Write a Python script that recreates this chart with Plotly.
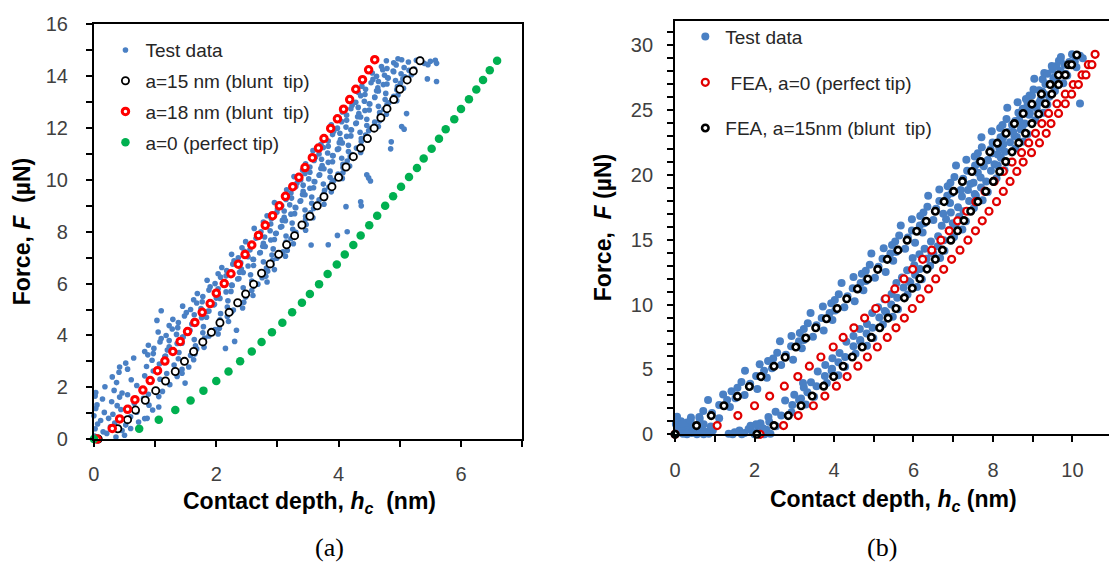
import plotly.graph_objects as go

W, H = 1109, 579

# ================= panel (a) =================
a_test = [
    (0.01,0.12),(0.09,0.04),(0.21,0.22),(0.36,0.08),(0.5,0.15),
    (0.02,0.4),(0.15,0.28),(0.27,0.47),(0.46,0.33),(0.6,0.41),
    (0.06,0.58),(0.11,0.72),(0.34,0.62),(0.52,0.54),(0.73,0.66),
    (0.0,0.9),(0.24,0.8),(0.31,0.96),(0.6,0.86),(0.83,0.79),
    (0.03,1.18),(0.17,1.03),(0.44,1.14),(0.57,1.22),(0.7,1.04),(0.96,1.12),
    (0.05,1.32),(0.29,1.44),(0.38,1.29),(0.66,1.38),(0.9,1.31),
    (0.02,1.66),(0.14,1.55),(0.42,1.62),(0.55,1.71),(0.81,1.57),(1.06,1.64),
    (0.03,1.8),(0.33,1.88),(0.46,1.78),(0.79,1.93),(1.12,1.84),
    (0.18,2.02),(0.37,2.18),(0.7,2.07),(0.92,2.2),(1.24,2.1),
    (0.3,2.4),(0.61,2.29),(0.83,2.44),(1.08,2.31),(1.36,2.42),
    (0.41,2.58),(0.55,2.7),(0.97,2.63),(1.19,2.53),(1.44,2.69),
    (0.52,2.93),(0.86,2.8),(1.07,2.9),(1.31,2.86),(1.55,2.78),
    (0.65,3.13),(0.95,3.04),(1.17,3.2),(1.38,3.1),(1.63,3.06),
    (0.83,3.38),(0.97,3.3),(1.2,3.44),(1.39,3.34),(1.65,3.28),
    (0.89,3.62),(1.23,3.56),(1.44,3.7),(1.66,3.6),(1.8,3.54),
    (1.1,3.88),(1.23,3.8),(1.45,3.94),(1.64,3.84),(1.81,3.9),
    (1.05,4.13),(1.35,4.04),(1.57,4.2),(1.78,4.1),(2.03,4.06),
    (1.23,4.38),(1.37,4.3),(1.6,4.44),(1.79,4.34),(2.05,4.28),
    (1.29,4.62),(1.63,4.56),(1.84,4.7),(2.06,4.6),(2.2,4.54),
    (1.51,4.88),(1.64,4.8),(1.88,4.94),(2.07,4.84),(2.25,4.9),
    (1.45,5.13),(1.75,5.04),(1.97,5.2),(2.18,5.1),(2.43,5.06),
    (1.63,5.38),(1.77,5.3),(2.0,5.44),(2.19,5.34),(2.45,5.28),
    (1.69,5.62),(2.03,5.56),(2.24,5.7),(2.46,5.6),(2.6,5.54),
    (1.9,5.88),(2.03,5.8),(2.25,5.94),(2.44,5.84),(2.61,5.9),
    (1.85,6.13),(2.15,6.04),(2.37,6.2),(2.58,6.1),(2.83,6.06),
    (2.03,6.38),(2.16,6.3),(2.38,6.44),(2.56,6.34),(2.81,6.28),
    (2.09,6.62),(2.41,6.56),(2.61,6.7),(2.82,6.6),(2.95,6.54),
    (2.29,6.88),(2.4,6.8),(2.6,6.94),(2.77,6.84),(2.92,6.9),
    (2.25,7.13),(2.52,7.04),(2.72,7.2),(2.91,7.1),(3.13,7.06),
    (2.42,7.38),(2.55,7.3),(2.76,7.44),(2.93,7.34),(3.16,7.28),
    (2.48,7.62),(2.77,7.56),(2.95,7.7),(3.14,7.6),(3.26,7.54),
    (2.68,7.88),(2.79,7.8),(2.98,7.94),(3.14,7.84),(3.28,7.9),
    (2.62,8.13),(2.88,8.04),(3.07,8.2),(3.25,8.1),(3.46,8.06),
    (2.77,8.38),(2.89,8.3),(3.08,8.44),(3.24,8.34),(3.47,8.28),
    (2.83,8.62),(3.11,8.56),(3.28,8.7),(3.46,8.6),(3.58,8.54),
    (3.0,8.88),(3.11,8.8),(3.29,8.94),(3.45,8.84),(3.59,8.9),
    (2.95,9.13),(3.2,9.04),(3.38,9.2),(3.56,9.1),(3.76,9.06),
    (3.11,9.38),(3.23,9.3),(3.41,9.44),(3.56,9.34),(3.77,9.28),
    (3.15,9.62),(3.42,9.56),(3.59,9.7),(3.77,9.6),(3.88,9.54),
    (3.32,9.88),(3.42,9.8),(3.6,9.94),(3.75,9.84),(3.89,9.9),
    (3.27,10.13),(3.51,10.04),(3.69,10.2),(3.86,10.1),(4.06,10.06),
    (3.41,10.38),(3.53,10.3),(3.71,10.44),(3.86,10.34),(4.07,10.28),
    (3.46,10.62),(3.73,10.56),(3.9,10.7),(4.07,10.6),(4.18,10.54),
    (3.62,10.88),(3.72,10.8),(3.9,10.94),(4.05,10.84),(4.19,10.9),
    (3.58,11.13),(3.82,11.04),(4.0,11.2),(4.16,11.1),(4.36,11.06),
    (3.71,11.38),(3.83,11.3),(4.01,11.44),(4.16,11.34),(4.37,11.28),
    (3.76,11.62),(4.03,11.56),(4.2,11.7),(4.37,11.6),(4.48,11.54),
    (3.92,11.88),(4.02,11.8),(4.2,11.94),(4.35,11.84),(4.49,11.9),
    (3.88,12.13),(4.12,12.04),(4.29,12.2),(4.46,12.1),(4.65,12.06),
    (4.01,12.38),(4.13,12.3),(4.31,12.44),(4.46,12.34),(4.67,12.28),
    (4.06,12.62),(4.33,12.56),(4.5,12.7),(4.67,12.6),(4.78,12.54),
    (4.22,12.88),(4.32,12.8),(4.5,12.94),(4.65,12.84),(4.79,12.9),
    (4.18,13.13),(4.42,13.04),(4.59,13.2),(4.76,13.1),(4.95,13.06),
    (4.32,13.38),(4.43,13.3),(4.62,13.44),(4.77,13.34),(4.97,13.28),
    (4.38,13.62),(4.64,13.56),(4.79,13.7),(4.96,13.6),(5.06,13.54),
    (4.56,13.88),(4.65,13.8),(4.8,13.94),(4.93,13.84),(5.05,13.9),
    (4.55,14.13),(4.75,14.04),(4.89,14.2),(5.02,14.1),(5.19,14.06),
    (4.7,14.38),(4.79,14.3),(4.94,14.44),(5.07,14.34),(5.24,14.28),
    (4.78,14.6),(4.9,14.52),(5.03,14.64),(5.14,14.55),(5.27,14.62),(5.4,14.5),
    (5.5,14.58),(5.6,14.5),(4.97,14.68),(5.34,14.66),(5.58,14.62),(5.46,14.45),
    (2.33,4.2),(2.3,3.77),(2.15,3.5),(1.1,4.95),(1.03,4.58),(0.42,2.78),
    (0.87,0.8),(1.06,1.24),(0.89,1.73),(1.49,2.16),(1.44,2.54),
    (4.14,8.0),(4.37,9.0),(3.83,7.5),(5.6,13.8),(5.45,13.9),(5.11,12.56),
    (5.03,12.06),(4.85,11.2),(4.52,9.96),(4.46,10.2),(4.12,8.97),(4.36,9.16),
    (3.55,7.49),(5.07,11.96),(4.86,11.47),(4.49,10.08),(3.98,7.86),
    # in-between rows
    (0.88,3.25),(1.16,3.19),(1.58,3.23),(0.98,3.5),(1.26,3.44),(1.68,3.48),
    (1.08,3.75),(1.36,3.69),(1.78,3.73),(1.18,4.0),(1.46,3.94),(1.88,3.98),
    (1.28,4.25),(1.56,4.19),(1.98,4.23),(1.38,4.5),(1.66,4.43),(2.08,4.48),
    (1.48,4.75),(1.76,4.68),(2.18,4.73),(1.58,5.0),(1.86,4.93),(2.28,4.98),
    (1.68,5.25),(1.96,5.18),(2.38,5.23),(1.78,5.5),(2.06,5.43),(2.48,5.48),
    (1.88,5.75),(2.16,5.68),(2.58,5.73),(1.98,6.0),(2.26,5.93),(2.68,5.98),
    (2.07,6.25),(2.35,6.18),(2.75,6.23),(2.17,6.5),(2.44,6.43),(2.84,6.48),
    (2.27,6.75),(2.52,6.68),(2.91,6.73),(2.36,7.0),(2.61,6.93),(2.99,6.98),
    (2.46,7.25),(2.71,7.18),(3.09,7.23),(2.56,7.5),(2.8,7.43),(3.14,7.48),
    (2.65,7.75),(2.89,7.68),(3.22,7.73),(2.73,8.0),(2.97,7.93),(3.3,7.98),
    (2.81,8.25),(3.05,8.18),(3.38,8.23),(2.9,8.5),(3.13,8.43),(3.46,8.48),
    (2.99,8.75),(3.22,8.68),(3.54,8.73),(3.07,9.0),(3.3,8.93),(3.62,8.98),
    (3.14,9.25),(3.37,9.18),(3.68,9.23),(3.22,9.5),(3.45,9.43),(3.76,9.48),
    (3.3,9.75),(3.53,9.68),(3.84,9.73),(3.38,10.0),(3.61,9.93),(3.92,9.98),
    (3.45,10.25),(3.68,10.18),(3.99,10.23),(3.53,10.5),(3.76,10.43),(4.07,10.48),
    (3.6,10.75),(3.83,10.68),(4.14,10.73),(3.68,11.0),(3.91,10.93),(4.22,10.98),
    (3.75,11.25),(3.98,11.18),(4.29,11.23),(3.83,11.5),(4.06,11.43),(4.37,11.48),
    (3.9,11.75),(4.13,11.68),(4.44,11.73),(3.98,12.0),(4.21,11.93),(4.52,11.98),
    (4.05,12.25),(4.28,12.18),(4.59,12.23),(4.13,12.5),(4.36,12.43),(4.67,12.48),
    (4.2,12.75),(4.43,12.68),(4.74,12.73),(4.28,13.0),(4.51,12.93),(4.82,12.98),
    (4.36,13.25),(4.59,13.18),(4.9,13.23),(4.44,13.5),(4.65,13.43),(4.95,13.48),
    (4.53,13.75),(4.73,13.68),(5.01,13.73),(4.62,14.0),(4.81,13.93),(5.08,13.98),
    (4.72,14.25),(4.9,14.18),(5.15,14.23),
]

a15_h = [0.07, 0.39, 0.55, 0.68, 0.84, 1.01, 1.17, 1.33, 1.48, 1.63,
         1.78, 1.92, 2.06, 2.21, 2.35, 2.48, 2.61, 2.74, 2.88, 3.02,
         3.15, 3.28, 3.40, 3.53, 3.65, 3.76, 3.89, 4.00, 4.12, 4.24,
         4.36, 4.47, 4.58, 4.69, 4.79, 4.90, 5.00, 5.12, 5.22, 5.33]
a15_F = [0, 0.40, 0.75, 1.12, 1.50, 1.87, 2.24, 2.61, 3.00, 3.38,
         3.75, 4.12, 4.49, 4.89, 5.26, 5.60, 5.98, 6.40, 6.76, 7.13,
         7.50, 7.85, 8.26, 8.60, 9.00, 9.35, 9.74, 10.10, 10.50, 10.90,
         11.23, 11.60, 12.00, 12.40, 12.75, 13.10, 13.50, 13.86, 14.20, 14.60]

a18_h = [0.05, 0.30, 0.42, 0.55, 0.67, 0.80, 0.92, 1.04, 1.16, 1.29,
         1.41, 1.53, 1.65, 1.77, 1.90, 2.00, 2.13, 2.24, 2.36, 2.47,
         2.58, 2.69, 2.80, 2.92, 3.03, 3.13, 3.25, 3.35, 3.45, 3.57,
         3.67, 3.76, 3.87, 3.98, 4.08, 4.18, 4.28, 4.39, 4.49, 4.59]
a18_F = [0, 0.41, 0.78, 1.15, 1.52, 1.89, 2.26, 2.64, 3.01, 3.38,
         3.77, 4.15, 4.50, 4.89, 5.23, 5.63, 6.00, 6.38, 6.75, 7.12,
         7.49, 7.86, 8.25, 8.62, 9.00, 9.37, 9.74, 10.10, 10.48, 10.86,
         11.23, 11.60, 11.99, 12.36, 12.73, 13.10, 13.50, 13.87, 14.25, 14.64]

a0_h = [0, 0.74, 1.06, 1.33, 1.58, 1.79, 2.00, 2.20, 2.39, 2.58,
        2.74, 2.91, 3.08, 3.24, 3.40, 3.53, 3.68, 3.82, 3.97, 4.10,
        4.24, 4.36, 4.50, 4.63, 4.76, 4.89, 5.02, 5.15, 5.28, 5.39,
        5.52, 5.64, 5.75, 5.89, 6.00, 6.13, 6.25, 6.36, 6.47, 6.59]
a0_F = [0, 0.40, 0.75, 1.12, 1.49, 1.87, 2.24, 2.61, 3.00, 3.38,
        3.75, 4.12, 4.49, 4.89, 5.26, 5.60, 5.98, 6.37, 6.74, 7.12,
        7.49, 7.86, 8.25, 8.62, 9.00, 9.37, 9.74, 10.11, 10.46, 10.83,
        11.20, 11.59, 11.96, 12.34, 12.74, 13.11, 13.49, 13.86, 14.23, 14.60]

# ================= panel (b) =================
b_test = [
    (0.05,0.1),(0.12,0.3),(0.2,0.05),(0.28,0.2),(0.35,0.45),(0.42,0.1),(0.5,0.3),
    (0.6,0.15),(0.68,0.4),(0.78,0.2),(0.85,0.05),(0.08,0.55),(0.22,0.7),(0.15,1.0),
    (0.3,0.9),(0.45,0.6),(0.62,1.2),(0.4,1.3),(0.05,1.36),(0.95,0.3),(0.72,0.0),
    (0.3,0.0),(0.55,0.0),(0.02,0.8),(0.9,0.6),
    (1.35,0.05),(1.5,0.15),(1.62,0.3),(1.75,0.1),(1.85,0.4),(1.95,0.2),(2.1,0.5),
    (2.2,0.15),(2.3,0.35),(1.45,0.0),(1.68,0.0),(2.0,0.0),(2.25,0.0),(2.4,0.05),
    (1.9,0.65),(2.15,0.85),
    # loading band
    (0.18,0.82),(0.39,1.07),(0.49,0.52),(0.72,0.77),
    (0.61,1.34),(0.71,1.79),(0.93,1.64),(1.11,1.24),
    (0.83,2.65),(1.11,2.25),(1.31,2.65),(1.38,2.1),
    (1.21,3.07),(1.42,3.32),(1.52,2.77),(1.75,3.02),
    (1.57,3.59),(1.67,4.04),(1.89,3.89),(2.07,3.49),
    (1.76,4.9),(2.04,4.5),(2.24,4.9),(2.31,4.35),
    (2.13,5.4),(2.34,5.65),(2.44,5.1),(2.67,5.35),
    (2.47,5.84),(2.57,6.29),(2.79,6.14),(2.97,5.74),
    (2.64,7.18),(2.92,6.78),(3.12,7.18),(3.19,6.63),
    (2.93,7.57),(3.14,7.82),(3.24,7.27),(3.47,7.52),
    (3.24,8.11),(3.34,8.56),(3.56,8.41),(3.74,8.01),
    (3.41,9.36),(3.69,8.96),(3.89,9.36),(3.96,8.81),
    (3.72,9.85),(3.93,10.1),(4.03,9.55),(4.26,9.8),
    (4.02,10.35),(4.12,10.8),(4.34,10.65),(4.52,10.25),
    (4.19,11.66),(4.47,11.26),(4.67,11.66),(4.74,11.11),
    (4.49,12.13),(4.7,12.38),(4.8,11.83),(5.03,12.08),
    (4.8,12.62),(4.9,13.07),(5.12,12.92),(5.3,12.52),
    (4.94,13.94),(5.22,13.54),(5.42,13.94),(5.49,13.39),
    (5.25,14.35),(5.46,14.6),(5.56,14.05),(5.79,14.3),
    (5.54,14.87),(5.64,15.32),(5.86,15.17),(6.04,14.77),
    (5.68,16.11),(5.96,15.71),(6.16,16.11),(6.23,15.56),
    (5.96,16.58),(6.17,16.83),(6.27,16.28),(6.5,16.53),
    (6.25,17.1),(6.35,17.55),(6.57,17.4),(6.75,17.0),
    (6.37,18.39),(6.65,17.99),(6.85,18.39),(6.92,17.84),
    (6.65,18.88),(6.86,19.13),(6.96,18.58),(7.19,18.83),
    (6.93,19.4),(7.03,19.85),(7.25,19.7),(7.43,19.3),
    (7.07,20.72),(7.35,20.32),(7.55,20.72),(7.62,20.17),
    (7.33,21.18),(7.54,21.43),(7.64,20.88),(7.87,21.13),
    (7.62,21.68),(7.72,22.13),(7.94,21.98),(8.12,21.58),
    (7.71,22.9),(7.99,22.5),(8.19,22.9),(8.26,22.35),
    (7.97,23.36),(8.18,23.61),(8.28,23.06),(8.51,23.31),
    (8.24,23.86),(8.34,24.31),(8.56,24.16),(8.74,23.76),
    (8.36,25.19),(8.64,24.79),(8.84,25.19),(8.91,24.64),
    (8.62,25.61),(8.83,25.86),(8.93,25.31),(9.16,25.56),
    (8.92,26.13),(9.02,26.58),(9.24,26.43),(9.42,26.03),
    (9.04,27.42),(9.32,27.02),(9.52,27.42),(9.59,26.87),
    (9.29,27.86),(9.5,28.11),(9.6,27.56),(9.83,27.81),
    (9.6,28.4),(9.7,28.85),(9.92,28.7),(10.1,28.3),
    (9.71,29.1),(9.99,29.3),(10.19,29.2),(10.26,29.0),
    # unloading band
    (2.04,0.77),(2.21,0.47),(2.37,0.97),(2.54,0.62),
    (2.35,1.34),(2.53,1.74),(2.67,1.44),(2.93,1.69),
    (2.77,2.6),(2.95,2.25),(3.12,2.65),(3.29,2.3),
    (3.0,3.05),(3.17,2.75),(3.33,3.25),(3.5,2.9),
    (3.24,3.61),(3.42,4.01),(3.56,3.71),(3.82,3.96),
    (3.59,4.85),(3.77,4.5),(3.94,4.9),(4.11,4.55),
    (3.78,5.35),(3.95,5.05),(4.11,5.55),(4.28,5.2),
    (3.96,5.86),(4.14,6.26),(4.28,5.96),(4.54,6.21),
    (4.31,7.13),(4.49,6.78),(4.66,7.18),(4.83,6.83),
    (4.49,7.57),(4.66,7.27),(4.82,7.77),(4.99,7.42),
    (4.65,8.11),(4.83,8.51),(4.97,8.21),(5.23,8.46),
    (4.96,9.36),(5.14,9.01),(5.31,9.41),(5.48,9.06),
    (5.11,9.8),(5.28,9.5),(5.44,10.0),(5.61,9.65),
    (5.27,10.42),(5.45,10.82),(5.59,10.52),(5.85,10.77),
    (5.57,11.66),(5.75,11.31),(5.92,11.71),(6.09,11.36),
    (5.71,12.1),(5.88,11.8),(6.04,12.3),(6.21,11.95),
    (5.84,12.64),(6.02,13.04),(6.16,12.74),(6.42,12.99),
    (6.15,13.89),(6.33,13.54),(6.5,13.94),(6.67,13.59),
    (6.28,14.3),(6.45,14.0),(6.61,14.5),(6.78,14.15),
    (6.44,14.87),(6.62,15.27),(6.76,14.97),(7.02,15.22),
    (6.71,16.09),(6.89,15.74),(7.06,16.14),(7.23,15.79),
    (6.82,16.58),(6.99,16.28),(7.15,16.78),(7.32,16.43),
    (6.94,17.1),(7.12,17.5),(7.26,17.2),(7.52,17.45),
    (7.22,18.34),(7.4,17.99),(7.57,18.39),(7.74,18.04),
    (7.37,18.83),(7.54,18.53),(7.7,19.03),(7.87,18.68),
    (7.51,19.4),(7.69,19.8),(7.83,19.5),(8.09,19.75),
    (7.77,20.67),(7.95,20.32),(8.12,20.72),(8.29,20.37),
    (7.87,21.13),(8.04,20.83),(8.2,21.33),(8.37,20.98),
    (7.98,21.68),(8.16,22.08),(8.3,21.78),(8.56,22.03),
    (8.25,22.87),(8.43,22.52),(8.6,22.92),(8.77,22.57),
    (8.37,23.31),(8.54,23.01),(8.7,23.51),(8.87,23.16),
    (8.48,23.86),(8.66,24.26),(8.8,23.96),(9.06,24.21),
    (8.75,25.1),(8.93,24.75),(9.1,25.15),(9.27,24.8),
    (8.87,25.59),(9.04,25.29),(9.2,25.79),(9.37,25.44),
    (8.98,26.13),(9.16,26.53),(9.3,26.23),(9.56,26.48),
    (9.25,27.37),(9.43,27.02),(9.6,27.42),(9.77,27.07),
    (9.37,27.81),(9.54,27.51),(9.7,28.01),(9.87,27.66),
    (9.48,28.4),(9.66,28.8),(9.8,28.5),(10.06,28.75),
    (10.19,25.5),(5.98,13.6),(3.22,3.96),
]

fea15_load_h = [0, 0.54, 0.91, 1.23, 1.57, 1.87, 2.16, 2.49, 2.77, 3.04,
                3.29, 3.54, 3.81, 4.08, 4.32, 4.59, 4.85, 5.10, 5.34, 5.61,
                5.84, 6.08, 6.32, 6.55, 6.77, 7.01, 7.23, 7.47, 7.69, 7.92,
                8.11, 8.33, 8.54, 8.76, 8.98, 9.22, 9.44, 9.65, 9.90, 10.11]
fea15_load_F = [0, 0.67, 1.44, 2.20, 2.92, 3.69, 4.45, 5.25, 5.94, 6.73,
                7.42, 8.21, 8.91, 9.70, 10.45, 11.21, 11.98, 12.72, 13.49, 14.20,
                14.97, 15.66, 16.43, 17.20, 17.94, 18.73, 19.50, 20.27, 21.03, 21.78,
                22.45, 23.21, 23.96, 24.74, 25.46, 26.23, 26.97, 27.71, 28.50, 29.25]
fea15_unload_h = [2.06, 2.49, 2.85, 3.17, 3.45, 3.74, 3.99, 4.23, 4.46, 4.71,
                  4.94, 5.15, 5.36, 5.56, 5.77, 5.97, 6.16, 6.34, 6.55, 6.73,
                  6.94, 7.11, 7.27, 7.44, 7.62, 7.82, 8.01, 8.17, 8.32, 8.48,
                  8.65, 8.82, 8.98, 9.15, 9.32, 9.48, 9.65, 9.82, 9.98]
fea15_unload_F = [0, 0.67, 1.44, 2.20, 2.95, 3.71, 4.45, 5.25, 5.96, 6.73,
                  7.47, 8.21, 8.96, 9.70, 10.52, 11.26, 12.00, 12.74, 13.49, 14.20,
                  14.97, 15.69, 16.48, 17.20, 17.94, 18.73, 19.50, 20.27, 21.03, 21.78,
                  22.47, 23.21, 23.96, 24.70, 25.49, 26.23, 26.97, 27.71, 28.50]

fea0_load_h = [0, 1.06, 1.58, 2.00, 2.38, 2.75, 3.09, 3.38, 3.67, 3.98,
               4.23, 4.50, 4.77, 5.05, 5.30, 5.53, 5.76, 5.98, 6.23, 6.46,
               6.69, 6.90, 7.11, 7.34, 7.57, 7.80, 8.03, 8.26, 8.48, 8.72,
               8.90, 9.07, 9.23, 9.40, 9.61, 9.82, 10.02, 10.24, 10.40, 10.57]
fea0_load_F = [0, 0.67, 1.44, 2.20, 2.95, 3.71, 4.45, 5.25, 5.96, 6.73,
               7.47, 8.21, 8.96, 9.70, 10.45, 11.21, 11.98, 12.72, 13.49, 14.20,
               14.97, 15.69, 16.46, 17.20, 17.94, 18.73, 19.50, 20.27, 20.99, 21.72,
               22.47, 23.21, 23.96, 24.74, 25.49, 26.23, 26.97, 27.71, 28.50, 29.30]
fea0_unload_h = [2.14, 2.73, 3.10, 3.48, 3.77, 4.06, 4.33, 4.60, 4.84, 5.09,
                 5.34, 5.56, 5.77, 5.97, 6.17, 6.38, 6.56, 6.76, 6.96, 7.17,
                 7.37, 7.56, 7.73, 7.90, 8.09, 8.26, 8.43, 8.60, 8.76, 8.97,
                 9.17, 9.34, 9.46, 9.65, 9.82, 9.98, 10.15, 10.34, 10.49]
fea0_unload_F = [0, 0.67, 1.44, 2.20, 2.95, 3.71, 4.45, 5.25, 5.96, 6.73,
                 7.47, 8.21, 8.96, 9.70, 10.45, 11.21, 11.98, 12.72, 13.49, 14.20,
                 14.97, 15.69, 16.46, 17.20, 17.94, 18.73, 19.50, 20.27, 20.99, 21.72,
                 22.47, 23.21, 23.96, 24.74, 25.49, 26.23, 26.97, 27.71, 28.50]

a_x_ticks = [0, 2, 4, 6]
a_y_ticks = [0, 2, 4, 6, 8, 10, 12, 14, 16]
b_x_ticks = [0, 2, 4, 6, 8, 10]
b_y_ticks = [0, 5, 10, 15, 20, 25, 30]

# ---------------------------------------------------------
SANS = "Liberation Sans, Arial, sans-serif"
SERIF = "Liberation Serif, Times New Roman, serif"
BLUE = "#4a80c4"
TICKCOL = "#404040"


def px(x):
    return x / W


def py(y):
    return 1 - y / H


fig = go.Figure()

fig.add_trace(go.Scatter(
    x=[p[0] for p in a_test], y=[p[1] for p in a_test], mode="markers",
    name="Test data", legend="legend", legendgroup="a1", cliponaxis=False,
    marker=dict(color=BLUE, size=5.6, line=dict(width=0)),
    xaxis="x", yaxis="y"))
fig.add_trace(go.Scatter(
    x=a15_h, y=a15_F, mode="markers", name="a=15 nm (blunt\u00a0 tip)",
    legend="legend", legendgroup="a2", cliponaxis=False,
    marker=dict(color="white", size=7.2, line=dict(color="black", width=1.8)),
    xaxis="x", yaxis="y"))
fig.add_trace(go.Scatter(
    x=a18_h, y=a18_F, mode="markers", name="a=18 nm (blunt\u00a0 tip)",
    legend="legend", legendgroup="a3", cliponaxis=False,
    marker=dict(color="white", size=6.5, line=dict(color="#ff0000", width=3)),
    xaxis="x", yaxis="y"))
fig.add_trace(go.Scatter(
    x=a0_h, y=a0_F, mode="markers", name="a=0 (perfect tip)",
    legend="legend", legendgroup="a4", cliponaxis=False,
    marker=dict(color="#00b050", size=8.5, line=dict(width=0)),
    xaxis="x", yaxis="y"))

fig.add_trace(go.Scatter(
    x=[p[0] for p in b_test], y=[p[1] for p in b_test], mode="markers",
    name="Test data", legend="legend2", legendgroup="b1", cliponaxis=False,
    marker=dict(color=BLUE, size=8, line=dict(width=0)),
    xaxis="x2", yaxis="y2"))
fig.add_trace(go.Scatter(
    x=fea0_load_h + fea0_unload_h, y=fea0_load_F + fea0_unload_F, mode="markers",
    name="\u00a0FEA, a=0 (perfect tip)", legend="legend2", legendgroup="b2",
    cliponaxis=False,
    marker=dict(color="white", size=7, line=dict(color="#e00000", width=2.2)),
    xaxis="x2", yaxis="y2"))
fig.add_trace(go.Scatter(
    x=fea15_load_h + fea15_unload_h, y=fea15_load_F + fea15_unload_F, mode="markers",
    name="FEA, a=15nm (blunt\u00a0 tip)", legend="legend2", legendgroup="b3",
    cliponaxis=False,
    marker=dict(color="white", size=6.5, line=dict(color="black", width=2.6)),
    xaxis="x2", yaxis="y2"))


def ax(rng, dom, vals, anchor, mirror, standoff):
    return dict(
        range=rng, domain=dom, anchor=anchor,
        tickmode="array", tickvals=vals, ticktext=[str(v) for v in vals],
        ticks="outside", ticklen=6, tickwidth=2, tickcolor="black",
        minor=dict(dtick=1, tick0=0, ticks="outside", ticklen=6, tickwidth=2,
                   tickcolor="black", showgrid=False),
        showline=True, linewidth=2, linecolor="black", mirror=mirror,
        showgrid=False, zeroline=False, ticklabelstandoff=standoff,
        tickfont=dict(family=SANS, size=20, color=TICKCOL),
    )


fig.update_layout(
    width=W, height=H, autosize=False,
    margin=dict(l=0, r=0, t=0, b=0),
    paper_bgcolor="white", plot_bgcolor="white",
    xaxis=ax([0, 7], [px(88.4), px(519)], a_x_ticks, "y", True, 10),
    yaxis=ax([0, 16], [py(445), py(14)], a_y_ticks, "x", True, 14),
    xaxis2=ax([0, 10.92], [px(672.7), 1.0], b_x_ticks, "y2", True, 11),
    yaxis2=ax([0, 31.9], [py(440), py(10)], b_y_ticks, "x2", False, 10),
    legend=dict(x=px(100), y=py(21), xanchor="left", yanchor="top",
                bgcolor="rgba(0,0,0,0)", tracegroupgap=3, itemwidth=30,
                font=dict(family=SANS, size=19, color="#262626")),
    legend2=dict(x=px(683), y=py(7), xanchor="left", yanchor="top",
                 bgcolor="rgba(0,0,0,0)", tracegroupgap=18, itemwidth=30,
                 font=dict(family=SANS, size=19, color="#262626")),
)

TITLE_FONT = dict(family=SANS, size=23, color="black")
ann = [
    dict(x=px(305), y=py(511), text="<b>Contact depth, <i>h<sub>c</sub></i>\u00a0 (nm)</b>"),
    dict(x=px(892), y=py(509), text="<b>Contact depth, <i>h<sub>c</sub></i> (nm)</b>"),
    dict(x=px(16), y=py(229), text="<b>Force, <i>F</i>\u00a0 (µN)</b>", textangle=-90),
    dict(x=px(601), y=py(225), text="<b>Force,\u00a0 <i>F</i> (µN)</b>", textangle=-90),
]
for a in ann:
    a.update(xref="paper", yref="paper", showarrow=False, font=TITLE_FONT,
             xanchor="center", yanchor="middle")
    fig.add_annotation(**a)

for lbl, xx in (("(a)", 325), ("(b)", 881)):
    fig.add_annotation(x=px(xx), y=py(558), xref="paper", yref="paper", text=lbl,
                       showarrow=False, xanchor="center", yanchor="middle",
                       font=dict(family=SERIF, size=26, color="black"))

fig.write_html("out.html")
